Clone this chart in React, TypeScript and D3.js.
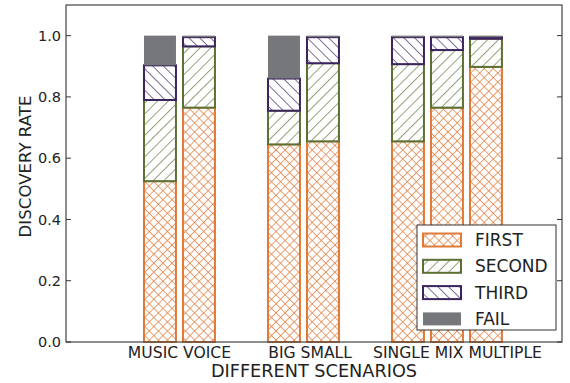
import { useEffect } from "react";
import * as d3 from "d3";

const categories = ["MUSIC", "VOICE", "BIG", "SMALL", "SINGLE", "MIX", "MULTIPLE"];
const groupOf = [0, 0, 1, 1, 2, 2, 2];
const indexInGroup = [0, 1, 0, 1, 0, 1, 2];
const groupLabels = ["MUSIC VOICE", "BIG SMALL", "SINGLE MIX MULTIPLE"];
// labels sit a bit right of their bar group in the original
const groupLabelShift = [0, 0.17, 0.27];

const first = [0.525, 0.765, 0.645, 0.655, 0.655, 0.765, 0.898];
const second = [0.265, 0.2, 0.11, 0.255, 0.252, 0.188, 0.092];
const third = [0.113, 0.03, 0.105, 0.085, 0.088, 0.042, 0.005];
const fail = [0.097, 0.005, 0.14, 0.005, 0.005, 0.005, 0.005];

const yTicks = [0, 0.2, 0.4, 0.6, 0.8, 1.0];

const series = [
  { name: "FIRST", values: first, color: "#e07a3a", pattern: "hatch-x" },
  { name: "SECOND", values: second, color: "#5d7033", pattern: "hatch-fwd" },
  { name: "THIRD", values: third, color: "#3b245e", pattern: "hatch-back" },
  { name: "FAIL", values: fail, color: "#76777a", pattern: "" },
];

const W = 570;
const H = 383;
const margin = { top: 5, right: 8, bottom: 41, left: 66 };
const groupStep = 3.18;
const barWidth = 0.82;
const font = "DejaVu Sans, sans-serif";

export default function App() {
  useEffect(() => {
    document.body.style.margin = "0";
  }, []);

  const x = d3
    .scaleLinear()
    .domain([-2.41, 10.31])
    .range([margin.left, W - margin.right]);
  const y = d3
    .scaleLinear()
    .domain([0, 1.1])
    .range([H - margin.bottom, margin.top]);

  const pos = (i: number) => groupOf[i] * groupStep + indexInGroup[i];

  const stacked = d3
    .stack<number>()
    .keys(series.map((_, k) => String(k)))
    .value((i, key) => series[+key].values[i])(categories.map((_, i) => i));

  const groupCenters = groupLabels.map((_, g) => {
    const members = categories.map((_, i) => i).filter((i) => groupOf[i] === g);
    return x((d3.mean(members, (i) => pos(i)) ?? 0) + groupLabelShift[g]);
  });

  const x0 = margin.left;
  const x1 = W - margin.right;
  const yTop = margin.top;
  const yBot = H - margin.bottom;

  const legendX = 417;
  const legendY = 225;
  const rowH = 26.3;

  return (
    <svg width={W} height={H} style={{ display: "block", fontFamily: font }}>
      <defs>
        <pattern id="hatch-x" width={6.4} height={6.4} patternUnits="userSpaceOnUse" patternTransform="rotate(45)">
          <rect width={6.4} height={6.4} fill="white" />
          <line x1={0} y1={0} x2={0} y2={6.4} stroke="#e07a3a" strokeWidth={1.4} />
          <line x1={0} y1={0} x2={6.4} y2={0} stroke="#e07a3a" strokeWidth={1.4} />
        </pattern>
        <pattern id="hatch-fwd" width={7.6} height={7.6} patternUnits="userSpaceOnUse" patternTransform="rotate(45)">
          <rect width={7.6} height={7.6} fill="white" />
          <line x1={0} y1={0} x2={0} y2={7.6} stroke="#5d7033" strokeWidth={1.3} />
        </pattern>
        <pattern id="hatch-back" width={7.6} height={7.6} patternUnits="userSpaceOnUse" patternTransform="rotate(-45)">
          <rect width={7.6} height={7.6} fill="white" />
          <line x1={0} y1={0} x2={0} y2={7.6} stroke="#3b245e" strokeWidth={1.3} />
        </pattern>
      </defs>

      {/* bars */}
      {stacked.map((layer, k) => {
        const s = series[k];
        return (
          <g key={s.name}>
            {layer.map((d, i) => {
              const h = y(d[0]) - y(d[1]);
              if (h <= 0) return null;
              return (
                <rect
                  key={categories[i]}
                  x={x(pos(i) - barWidth / 2)}
                  y={y(d[1])}
                  width={x(barWidth) - x(0)}
                  height={h}
                  fill={s.pattern ? `url(#${s.pattern})` : s.color}
                  stroke={s.color}
                  strokeWidth={s.pattern ? 2 : 0}
                />
              );
            })}
          </g>
        );
      })}

      {/* frame */}
      <rect x={x0} y={yTop} width={x1 - x0} height={yBot - yTop} fill="none" stroke="#444" strokeWidth={1.2} />

      {/* y ticks */}
      {yTicks.map((t) => (
        <g key={t}>
          <line x1={x0} x2={x0 + 5} y1={y(t)} y2={y(t)} stroke="#333" />
          <line x1={x1} x2={x1 - 5} y1={y(t)} y2={y(t)} stroke="#333" />
          <text x={x0 - 5} y={y(t)} dy="0.36em" textAnchor="end" fontSize={14.5} fill="#222">
            {t.toFixed(1)}
          </text>
        </g>
      ))}

      {/* x group labels */}
      {groupLabels.map((lab, g) => (
        <text key={lab} x={groupCenters[g]} y={yBot + 16} textAnchor="middle" fontSize={15.6} fill="#222">
          {lab}
        </text>
      ))}

      <text x={(x0 + x1) / 2} y={H - 6} textAnchor="middle" fontSize={17.7} fill="#222">
        DIFFERENT SCENARIOS
      </text>
      <text
        transform={`translate(31,${(yTop + yBot) / 2 - 7}) rotate(-90)`}
        textAnchor="middle"
        fontSize={16.6}
        fill="#222"
      >
        DISCOVERY RATE
      </text>

      {/* legend */}
      <rect x={legendX} y={legendY} width={139} height={105} fill="white" stroke="#333" strokeWidth={1} />
      {series.map((s, k) => {
        const cy = legendY + 15 + k * rowH;
        return (
          <g key={s.name}>
            <rect
              x={legendX + 6}
              y={cy - 6.5}
              width={38}
              height={13}
              fill={s.pattern ? `url(#${s.pattern})` : s.color}
              stroke={s.color}
              strokeWidth={s.pattern ? 2 : 0}
            />
            <text x={legendX + 58} y={cy} dy="0.36em" fontSize={17} fill="#222">
              {s.name}
            </text>
          </g>
        );
      })}
    </svg>
  );
}
